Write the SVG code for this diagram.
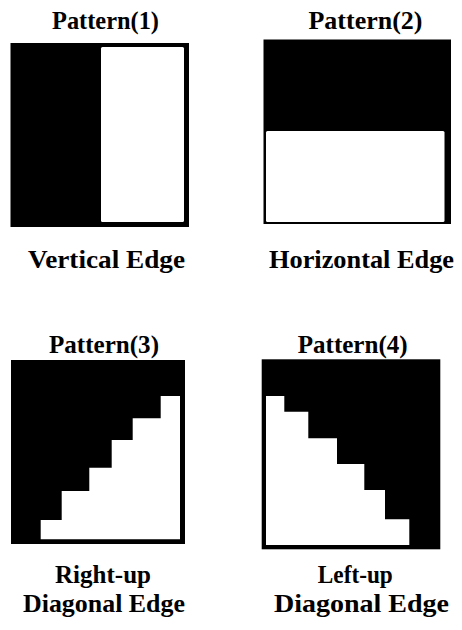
<svg xmlns="http://www.w3.org/2000/svg" width="462" height="630" viewBox="0 0 462 630">
<style>
.t{font-family:"Liberation Serif","Times New Roman",serif;font-weight:bold;font-size:25px;fill:#000;text-anchor:middle}
.blk{fill:#000}
.wht{fill:#fff}
</style>
<rect width="462" height="630" fill="#fff"/>
<g id="pattern1">
<text class="t" x="105.5" y="29" textLength="107" lengthAdjust="spacingAndGlyphs">Pattern(1)</text>
<rect class="blk" x="10.5" y="43" width="178.5" height="184"/>
<rect class="wht" x="101" y="47" width="83" height="175" rx="1.5"/>
<text class="t" x="106.5" y="268" textLength="157" lengthAdjust="spacingAndGlyphs">Vertical Edge</text>
</g>
<g id="pattern2">
<text class="t" x="365.5" y="29" textLength="114" lengthAdjust="spacingAndGlyphs">Pattern(2)</text>
<rect class="blk" x="263.5" y="39.5" width="187.5" height="184.5"/>
<rect class="wht" x="266" y="131" width="178.5" height="91" rx="1.5"/>
<text class="t" x="361.5" y="268" textLength="185" lengthAdjust="spacingAndGlyphs">Horizontal Edge</text>
</g>
<g id="pattern3">
<text class="t" x="104" y="353" textLength="110" lengthAdjust="spacingAndGlyphs">Pattern(3)</text>
<rect class="blk" x="11" y="360" width="174" height="184"/>
<path class="wht" d="M40.7 539.3 V520 H61.7 V491 H89.3 V467.7 H111.7 V440 H132.7 V418.3 H160.7 V396 H180 V539.3 Z"/>
<text class="t" x="103" y="583" textLength="96" lengthAdjust="spacingAndGlyphs">Right-up</text>
<text class="t" x="104" y="611.5" textLength="162" lengthAdjust="spacingAndGlyphs">Diagonal Edge</text>
</g>
<g id="pattern4">
<text class="t" x="352.7" y="353" textLength="110" lengthAdjust="spacingAndGlyphs">Pattern(4)</text>
<rect class="blk" x="261.7" y="359.3" width="178.6" height="190"/>
<path class="wht" d="M266 545 V396 H284.3 V411.7 H308.3 V438.3 H337 V464 H364.3 V490 H385 V519.3 H409.3 V545 Z"/>
<text class="t" x="355.3" y="583" textLength="75" lengthAdjust="spacingAndGlyphs">Left-up</text>
<text class="t" x="361.5" y="611.5" textLength="175" lengthAdjust="spacingAndGlyphs">Diagonal Edge</text>
</g>
<g id="connectors"></g>
</svg>
